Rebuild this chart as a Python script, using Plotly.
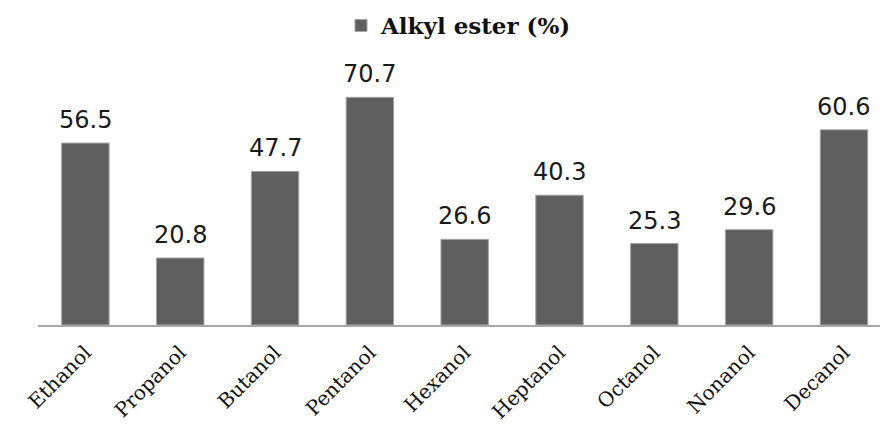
import plotly.graph_objects as go

# Alkyl ester yield for each alcohol
alcohols = ["Ethanol", "Propanol", "Butanol", "Pentanol", "Hexanol",
            "Heptanol", "Octanol", "Nonanol", "Decanol"]
ester_pct = [56.5, 20.8, 47.7, 70.7, 26.6, 40.3, 25.3, 29.6, 60.6]
series_name = "Alkyl ester (%)"

fig = go.Figure()
fig.add_trace(go.Bar(
    x=alcohols,
    y=ester_pct,
    name=series_name,
    width=0.5,
    marker=dict(color="#5f5f5f", line=dict(color="#a3a3a3", width=1)),
    showlegend=True,
))

# value labels above each bar
for name, val in zip(alcohols, ester_pct):
    fig.add_annotation(
        x=name, y=val, text=f"{val:.1f}",
        showarrow=False, yanchor="bottom", yshift=7,
        font=dict(family="DejaVu Sans", size=24, color="#1a1a1a"),
    )

fig.update_layout(
    width=880, height=425,
    margin=dict(l=38, r=0, t=60, b=100, autoexpand=False),
    paper_bgcolor="white", plot_bgcolor="white",
    bargap=0.5,
    legend=dict(
        orientation="h", x=0.5, xanchor="center",
        yref="container", y=0.94, yanchor="middle",
        font=dict(family="DejaVu Serif", size=23, color="#111111", weight="bold"),
        itemwidth=30,
    ),
    xaxis=dict(
        range=[-0.5, 8.38], automargin=False,
        showline=True, linecolor="#a6a6a6", linewidth=2,
        ticks="", showgrid=False, tickangle=-45,
        ticklabelstandoff=6,
        tickfont=dict(family="DejaVu Serif", size=20, color="#111111"),
    ),
    yaxis=dict(
        range=[0, 82.3], visible=False, showgrid=False, zeroline=False,
    ),
)

fig.write_html("out.html")
